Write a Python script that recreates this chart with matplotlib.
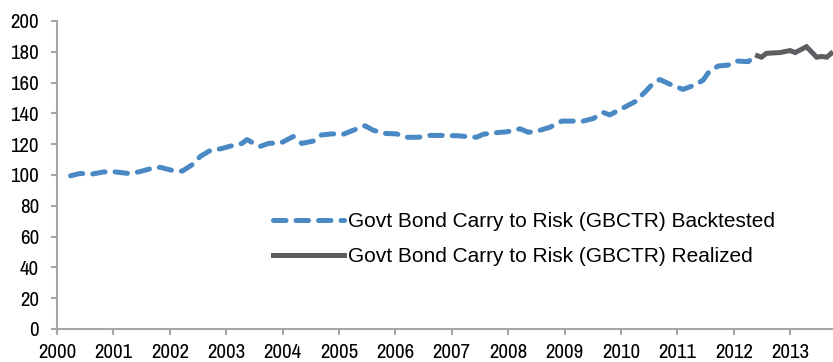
import matplotlib
matplotlib.use("Agg")
import matplotlib.pyplot as plt
from matplotlib.lines import Line2D

plt.rcParams['font.family'] = ['Liberation Sans Narrow', 'Arial Narrow', 'Archivo Narrow',
                               'Liberation Sans', 'DejaVu Sans']

# Backtested series (decimal year, index value)
bt_time = [2000.24, 2000.41, 2000.62, 2000.83, 2001.03, 2001.27, 2001.45, 2001.65, 2001.83,
           2002.04, 2002.22, 2002.39, 2002.54, 2002.72, 2002.90, 2003.10, 2003.28, 2003.37,
           2003.49, 2003.60, 2003.75, 2003.98, 2004.19, 2004.34, 2004.54, 2004.69, 2004.87,
           2005.08, 2005.25, 2005.46, 2005.61, 2005.82, 2006.02, 2006.20, 2006.41, 2006.61,
           2006.79, 2007.09, 2007.44, 2007.56, 2007.85, 2007.97, 2008.21, 2008.36, 2008.56,
           2008.74, 2008.95, 2009.15, 2009.33, 2009.51, 2009.69, 2009.80, 2010.01, 2010.25,
           2010.43, 2010.57, 2010.69, 2010.90, 2011.10, 2011.31, 2011.46, 2011.58, 2011.73,
           2011.90, 2012.05, 2012.26, 2012.38]
bt_value = [99.5, 101, 100.6, 102, 102, 101, 102, 104, 105,
            103, 102.5, 106.5, 112, 116, 117, 119, 120.5, 123,
            120.5, 118.5, 120.5, 121, 125, 120.5, 122, 126, 126.7,
            126.5, 129, 132, 129, 127, 126.7, 124.5, 124.5, 125.7,
            125.7, 125.5, 124.5, 126.5, 127.7, 128, 130, 127.7, 129,
            131, 135, 135, 135, 136.7, 140.6, 139, 143, 147.6,
            154, 159.5, 162, 158.4, 155.6, 158.4, 161.7, 168, 170.8,
            171.4, 174, 173.6, 178]

# Realized series
rl_time = [2012.38, 2012.49, 2012.58, 2012.82, 2013.00, 2013.09, 2013.29, 2013.47,
           2013.56, 2013.65, 2013.76]
rl_value = [178, 176.5, 179, 179.5, 180.8, 179.5, 183.3, 176.5, 177, 176.5, 180]

x_ticks = list(range(2000, 2014))
y_ticks = list(range(0, 201, 20))
labels = ["Govt Bond Carry to Risk (GBCTR) Backtested",
          "Govt Bond Carry to Risk (GBCTR) Realized"]

blue = "#4A89C4"
grey = "#5E5E62"
axis_col = "#A6A6A6"

fig = plt.figure(figsize=(8.33, 3.62), dpi=100)
ax = fig.add_axes([57/833, 33/362, 1 - 57/833, (329 - 21)/362])

ax.plot(bt_time, bt_value, color=blue, lw=3.6, dashes=(2.5, 2.0),
        dash_capstyle='round', solid_capstyle='round', label=labels[0])
ax.plot(rl_time, rl_value, color=grey, lw=3.6, solid_capstyle='butt',
        solid_joinstyle='miter', label=labels[1])

ax.set_xlim(2000, 2013.76)
ax.set_ylim(0, 200)
ax.set_xticks(x_ticks)
ax.set_xticklabels([str(v) for v in x_ticks])
ax.set_yticks(y_ticks)
ax.set_yticklabels([str(v) for v in y_ticks])

for s in ['top', 'right']:
    ax.spines[s].set_visible(False)
for s in ['left', 'bottom']:
    ax.spines[s].set_color(axis_col)
    ax.spines[s].set_linewidth(1.5)
ax.tick_params(axis='both', colors=axis_col, width=1.5, length=4, labelcolor='black',
               labelsize=15)
ax.tick_params(axis='x', pad=6)
ax.tick_params(axis='y', pad=9)

handles = [Line2D([], [], color=blue, lw=3.6, dashes=(2.5, 2.0), dash_capstyle='round'),
           Line2D([], [], color=grey, lw=3.6)]
leg = fig.legend(handles, labels, loc='center left', bbox_to_anchor=(273/833, 1 - 239/362),
                 frameon=False, fontsize=15, handlelength=3.4, handletextpad=0.2,
                 labelspacing=0.75, borderpad=0, borderaxespad=0,
                 prop={'family': ['Liberation Sans', 'DejaVu Sans'], 'size': 15})

fig.savefig("out.png", dpi=100)
